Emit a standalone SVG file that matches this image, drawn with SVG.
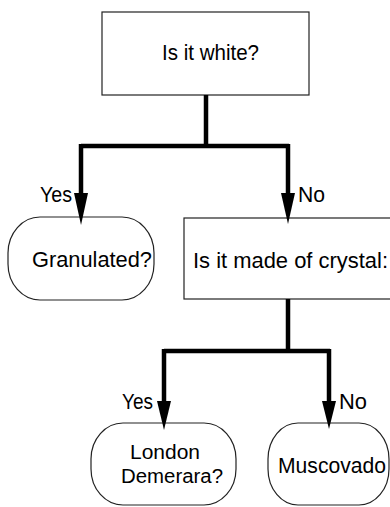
<svg xmlns="http://www.w3.org/2000/svg" width="390" height="507" viewBox="0 0 390 507">
<style>
.box{fill:#fff;stroke:#222;stroke-width:1.2}
.t{font-family:"Liberation Sans",Arial,sans-serif;font-size:22px;fill:#000}
.s{font-size:20px}
.wire{fill:none;stroke:#000;stroke-width:4.5;stroke-linejoin:miter}
.head{fill:#000}
</style>
<rect width="390" height="507" fill="#fff"/>
<g id="n-white"><rect class="box" x="102" y="12" width="207" height="83"/><text class="t" x="162" y="60" textLength="97" lengthAdjust="spacingAndGlyphs">Is it white?</text></g>
<g id="n-granulated"><rect class="box" x="8" y="217" width="146" height="83" rx="32" ry="36"/><text class="t" x="32" y="267" textLength="120" lengthAdjust="spacingAndGlyphs">Granulated?</text></g>
<g id="n-crystal"><rect class="box" x="184" y="218" width="230" height="81"/><text class="t" x="193" y="268" textLength="195" lengthAdjust="spacingAndGlyphs">Is it made of crystal:</text></g>
<g id="n-london"><rect class="box" x="91" y="423" width="145" height="82" rx="32" ry="36"/><text class="t s" x="130" y="459" textLength="70" lengthAdjust="spacingAndGlyphs">London</text><text class="t s" x="121" y="482.5" textLength="102" lengthAdjust="spacingAndGlyphs">Demerara?</text></g>
<g id="n-muscovado"><rect class="box" x="268" y="423" width="121" height="82" rx="30" ry="36"/><text class="t" x="278" y="473" textLength="108" lengthAdjust="spacingAndGlyphs">Muscovado</text></g>
<g id="connectors">
<path class="wire" d="M206,95 V146 M81,146 H289"/>
<path class="wire" d="M81,144 V196"/>
<path class="wire" d="M288,144 V196"/>
<path class="head" d="M74,193 L88,193 L81,225 Z"/>
<path class="head" d="M281,193 L295,193 L288,224 Z"/>
<path class="wire" d="M288,299 V351 M164,351 H330"/>
<path class="wire" d="M164,349 V404"/>
<path class="wire" d="M329,349 V404"/>
<path class="head" d="M157,401 L171,401 L164,430 Z"/>
<path class="head" d="M322,401 L336,401 L329,429 Z"/>
<text class="t" x="40" y="202" textLength="32" lengthAdjust="spacingAndGlyphs">Yes</text>
<text class="t" x="298" y="202" textLength="27" lengthAdjust="spacingAndGlyphs">No</text>
<text class="t" x="122" y="409" textLength="31" lengthAdjust="spacingAndGlyphs">Yes</text>
<text class="t" x="339" y="409" textLength="28" lengthAdjust="spacingAndGlyphs">No</text>
</g>
</svg>
